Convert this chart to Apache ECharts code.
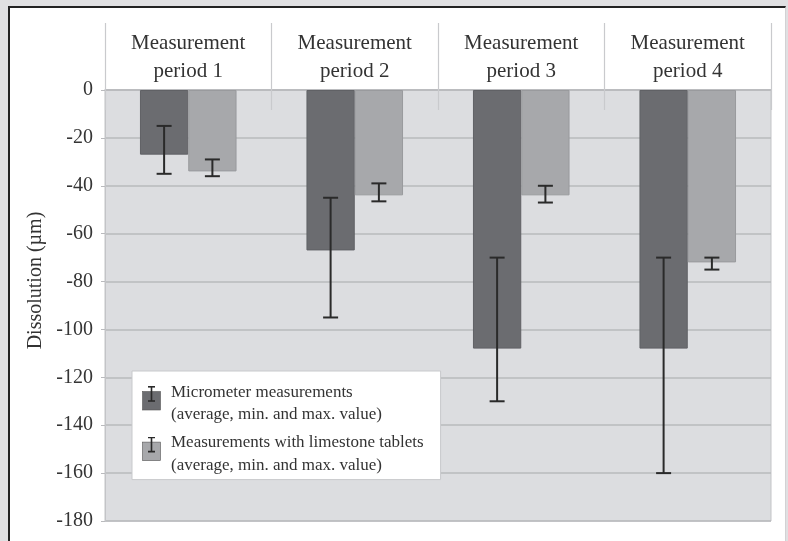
<!DOCTYPE html>
<html>
<head>
<meta charset="utf-8">
<title>Dissolution measurements</title>
<script src="https://cdn.jsdelivr.net/npm/echarts@6/dist/echarts.min.js"></script>
<style>
  html, body { margin: 0; padding: 0; width: 788px; height: 541px; overflow: hidden; background: #e0e0e2; }
  #panel { position: absolute; left: 8px; top: 6px; width: 775px; height: 540px; background: #fff;
           border-top: 2px solid #222; border-left: 2px solid #222; border-right: 1px solid #d2d2d4; }
  #chart { position: absolute; left: 0; top: 0; width: 788px; height: 541px; }
</style>
</head>
<body>
<div id="panel"></div>
<div id="chart"></div>
<script>
// Measurement periods (category axis)
const periods = ['Measurement period 1', 'Measurement period 2', 'Measurement period 3', 'Measurement period 4'];

// Micrometer measurements: average, upper (max.) and lower (min.) dissolution in µm
const micrometerAvg   = [-27, -67, -108, -108];
const micrometerUpper = [-15, -45, -70, -70];
const micrometerLower = [-35, -95, -130, -160];

// Limestone tablets: average, upper and lower dissolution in µm
const tabletAvg   = [-34, -44, -44, -72];
const tabletUpper = [-29, -39, -40, -70];
const tabletLower = [-36, -46.5, -47, -75];

// Value axis ticks
const yTicks = [0, -20, -40, -60, -80, -100, -120, -140, -160, -180];

const seriesNames = ['Micrometer measurements', 'Measurements with limestone tablets'];
const darkColor = '#6b6c70';
const lightColor = '#a7a8ab';
const whiskerColor = '#2a2a2a';
const serif = '"Liberation Serif", "DejaVu Serif", serif';
const catGap = 0.42; // share of a category left empty around the bar pair

function legendIcon(fill) {
  const svg = '<svg xmlns="http://www.w3.org/2000/svg" width="24" height="35" viewBox="0 0 24 35">' +
    '<rect x="0.5" y="5.5" width="18" height="18.5" fill="' + fill + '" stroke="#555" stroke-width="0.6"/>' +
    '<line x1="9.5" y1="0.8" x2="9.5" y2="15" stroke="' + whiskerColor + '" stroke-width="1.6"/>' +
    '<line x1="6" y1="0.8" x2="13" y2="0.8" stroke="' + whiskerColor + '" stroke-width="1.6"/>' +
    '<line x1="6" y1="15" x2="13" y2="15" stroke="' + whiskerColor + '" stroke-width="1.6"/>' +
    '</svg>';
  return 'image://data:image/svg+xml;charset=utf-8,' + encodeURIComponent(svg);
}

// Whisker (min..max) drawn for one of the two bars in a category
function whiskerRenderer(side) {
  return function (params, api) {
    const cat = api.value(0);
    const top = api.coord([cat, api.value(1)]);
    const bottom = api.coord([cat, api.value(2)]);
    const catW = api.size([1, 0])[0];
    const x = top[0] + side * catW * (1 - catGap) / 4;
    const half = 7.5;
    const style = { stroke: whiskerColor, lineWidth: 2 };
    return {
      type: 'group',
      children: [
        { type: 'line', shape: { x1: x, y1: top[1], x2: x, y2: bottom[1] }, style: style },
        { type: 'line', shape: { x1: x - half, y1: top[1], x2: x + half, y2: top[1] }, style: style },
        { type: 'line', shape: { x1: x - half, y1: bottom[1], x2: x + half, y2: bottom[1] }, style: style }
      ]
    };
  };
}

function rangeData(upper, lower) {
  return upper.map((u, i) => [i, u, lower[i]]);
}

const chart = echarts.init(document.getElementById('chart'), null, { renderer: 'canvas' });

chart.setOption({
  backgroundColor: 'transparent',
  animation: false,
  textStyle: { fontFamily: serif },
  grid: {
    left: 105, right: 17, top: 90, bottom: 20,
    show: true, backgroundColor: '#dcdde0', borderColor: '#c3c4c7', borderWidth: 1
  },
  legend: {
    orient: 'vertical',
    left: 132, top: 371,
    backgroundColor: '#ffffff',
    borderColor: '#c8c9cc', borderWidth: 1,
    padding: [10, 17, 3, 10],
    itemGap: 5.6,
    itemWidth: 24, itemHeight: 35,
    data: [
      { name: seriesNames[0], icon: legendIcon(darkColor) },
      { name: seriesNames[1], icon: legendIcon(lightColor) }
    ],
    formatter: name => name + '\n(average, min. and max. value)',
    textStyle: { fontFamily: serif, fontSize: 17, lineHeight: 22.5, color: '#333' }
  },
  xAxis: [
    {
      type: 'category', position: 'top', data: periods,
      axisLine: { show: true, lineStyle: { color: '#b9babd', width: 1.5 } },
      axisTick: { show: true, inside: false, length: 67, lineStyle: { color: '#c9cacd', width: 1.2 } },
      axisLabel: {
        margin: 5, fontSize: 21, lineHeight: 28, color: '#333333', fontFamily: serif,
        formatter: v => v.replace(' period', '\nperiod')
      },
      splitLine: { show: false }
    },
    {
      type: 'category', position: 'top', data: periods,
      axisLine: { show: false },
      axisTick: { show: true, inside: true, length: 20, lineStyle: { color: '#c9cacd', width: 1.2 } },
      axisLabel: { show: false },
      splitLine: { show: false }
    }
  ],
  yAxis: {
    type: 'value', min: yTicks[yTicks.length - 1], max: yTicks[0], interval: 20,
    name: 'Dissolution (µm)', nameLocation: 'middle', nameGap: 56,
    nameTextStyle: { fontFamily: serif, fontSize: 20, color: '#333333', padding: [0, 0, 0, 50] },
    axisLine: { show: true, lineStyle: { color: '#c3c4c7' } },
    axisTick: { show: true, length: 4, lineStyle: { color: '#b9babd' } },
    axisLabel: { margin: 12, fontSize: 20, color: '#353535', fontFamily: serif },
    splitLine: { show: true, lineStyle: { color: '#b9babd', width: 1.5 } }
  },
  series: [
    {
      name: seriesNames[0], type: 'bar', data: micrometerAvg,
      barGap: '0%', barCategoryGap: (catGap * 100) + '%',
      itemStyle: { color: darkColor, borderColor: '#606165', borderWidth: 1 }
    },
    {
      name: seriesNames[1], type: 'bar', data: tabletAvg,
      barGap: '0%', barCategoryGap: (catGap * 100) + '%',
      itemStyle: { color: lightColor, borderColor: '#999a9d', borderWidth: 1 }
    },
    {
      name: 'micrometerRange', type: 'custom', z: 5,
      renderItem: whiskerRenderer(-1),
      encode: { x: 0, y: [1, 2] },
      data: rangeData(micrometerUpper, micrometerLower)
    },
    {
      name: 'tabletRange', type: 'custom', z: 5,
      renderItem: whiskerRenderer(1),
      encode: { x: 0, y: [1, 2] },
      data: rangeData(tabletUpper, tabletLower)
    }
  ]
});
</script>
</body>
</html>
